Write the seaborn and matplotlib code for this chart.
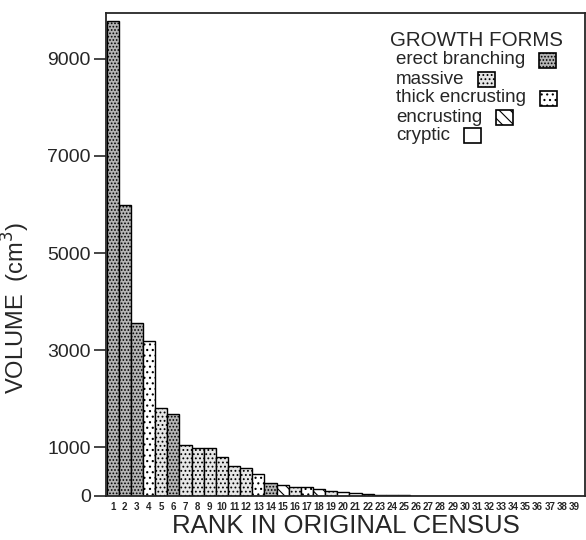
import matplotlib
matplotlib.use("Agg")
import matplotlib.pyplot as plt
import seaborn as sns
import pandas as pd
from matplotlib.patches import Rectangle

# ranks 1..39 and volume (cm3)
ranks = [str(i) for i in range(1, 40)]
volume = [9770, 5990, 3560, 3190, 1810, 1690, 1050, 990, 980, 800,
          620, 580, 450, 270, 230, 190, 190, 150, 100, 80,
          60, 40, 30, 20, 15, 0, 0, 0, 0, 0,
          0, 0, 0, 0, 0, 0, 0, 0, 0]
form = ["erect branching", "erect branching", "erect branching", "thick encrusting", "massive",
        "erect branching", "massive", "massive", "massive", "massive",
        "massive", "massive", "thick encrusting", "erect branching", "encrusting",
        "massive", "thick encrusting", "encrusting", "massive", "cryptic",
        "cryptic", "massive", "cryptic", "cryptic", "cryptic"] + ["cryptic"] * 14

forms = ["erect branching", "massive", "thick encrusting", "encrusting", "cryptic"]
styles = {
    "erect branching": ("#b4b4b4", "....."),
    "massive": ("#e6e6e6", "...."),
    "thick encrusting": ("white", "..."),
    "encrusting": ("white", "\\\\\\"),
    "cryptic": ("white", ""),
}

df = pd.DataFrame({"rank": ranks, "volume": volume, "form": form})

sns.set_style("ticks")
plt.rcParams["font.family"] = ["Liberation Sans", "DejaVu Sans"]
plt.rcParams["hatch.linewidth"] = 0.8

W, H = 586, 540
fig = plt.figure(figsize=(W / 100, H / 100), dpi=100)
ax = fig.add_axes([106 / W, 1 - 496 / H, 479 / W, 483 / H])

sns.barplot(data=df, x="rank", y="volume", color="white", width=1.0,
            edgecolor="black", linewidth=1.0, ax=ax)

for patch, f in zip(ax.patches, df["form"]):
    fc, h = styles[f]
    patch.set_facecolor(fc)
    patch.set_hatch(h)

ax.set_xlim(-0.55, 38.9)
ax.set_ylim(0, 9940)
ax.set_yticks([0, 1000, 3000, 5000, 7000, 9000])
ax.tick_params(axis="y", length=9, width=1.2, labelsize=14, pad=2)
ax.tick_params(axis="x", length=0, labelsize=7, pad=4)
for lab in ax.get_xticklabels():
    lab.set_fontweight("bold")
for s in ax.spines.values():
    s.set_linewidth(1.3)

ax.set_xlabel("RANK IN ORIGINAL CENSUS", fontsize=18.5, labelpad=2)
ax.set_ylabel("VOLUME  (cm$^3$)", fontsize=17)
ax.yaxis.set_label_coords(-0.155, 0.39)

# legend: text first, box right after each label (as in the original)
fig.text(390 / W, 1 - 40 / H, "GROWTH FORMS", fontsize=14.8, va="center", ha="left")
entry_y = [60, 79, 98, 117, 135]
fig.canvas.draw()
renderer = fig.canvas.get_renderer()
for f, y in zip(forms, entry_y):
    t = fig.text(396 / W, 1 - y / H, f, fontsize=13.5, va="center", ha="left")
    bb = t.get_window_extent(renderer)
    x0 = bb.x1 + 14
    fc, h = styles[f]
    fig.patches.append(Rectangle((x0 / W, 1 - (y + 8) / H), 17 / W, 15 / H,
                                 transform=fig.transFigure, facecolor=fc,
                                 edgecolor="black", hatch=h, linewidth=1.2))

fig.savefig("out.png", dpi=100)
